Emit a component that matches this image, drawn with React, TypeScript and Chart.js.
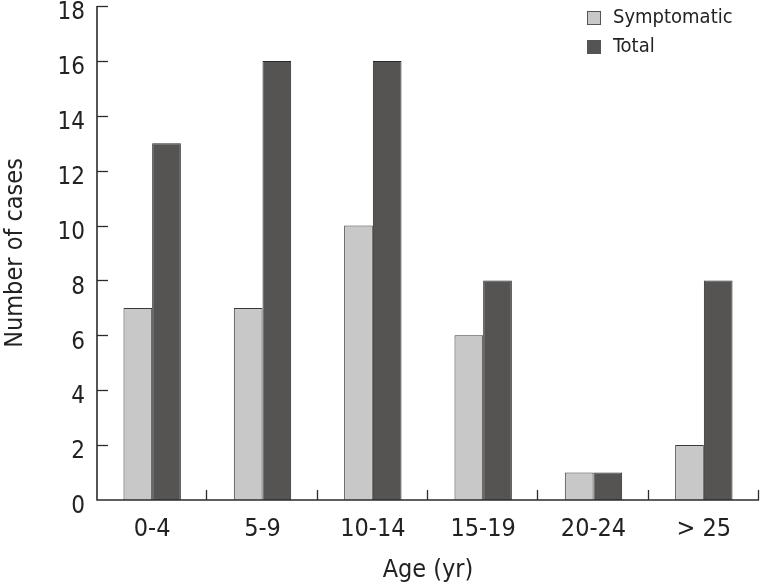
import React, { useEffect, useRef } from "react";
import { Chart, registerables } from "chart.js";

Chart.register(...registerables);

const categories = ["0-4", "5-9", "10-14", "15-19", "20-24", "> 25"];
const symptomatic = [7, 7, 10, 6, 1, 2];
const total = [13, 16, 16, 8, 1, 8];
const seriesNames = ["Symptomatic", "Total"];
const yTicks = [0, 2, 4, 6, 8, 10, 12, 14, 16, 18];

const FONT = "'Liberation Sans Narrow', 'DejaVu Sans Condensed', 'Liberation Sans', sans-serif";
const AXIS = "#2b2b2b";

const innerTicks = {
  id: "innerTicks",
  afterDraw(chart: any) {
    const { ctx, scales } = chart;
    const x = scales.x;
    const y = scales.y;
    ctx.save();
    ctx.strokeStyle = AXIS;
    ctx.lineWidth = 1.3;
    yTicks.forEach((v) => {
      if (v === 0) return;
      const py = Math.round(y.getPixelForValue(v)) + 0.5;
      ctx.beginPath();
      ctx.moveTo(x.left, py);
      ctx.lineTo(x.left + 11, py);
      ctx.stroke();
    });
    const n = categories.length;
    const w = (x.right - x.left) / n;
    for (let i = 1; i <= n; i++) {
      const px = Math.round(x.left + i * w) - 0.5;
      ctx.beginPath();
      ctx.moveTo(px, y.bottom);
      ctx.lineTo(px, y.bottom - 10);
      ctx.stroke();
    }
    ctx.lineWidth = 1.6;
    ctx.beginPath();
    ctx.moveTo(x.left, y.top);
    ctx.lineTo(x.left, y.bottom);
    ctx.lineTo(x.right, y.bottom);
    ctx.stroke();
    ctx.restore();
  },
};

const boxLegend = {
  id: "boxLegend",
  afterDraw(chart: any) {
    const { ctx } = chart;
    ctx.save();
    ctx.font = `20px ${FONT}`;
    ctx.textBaseline = "middle";
    chart.data.datasets.forEach((ds: any, i: number) => {
      const cy = 18 + i * 29;
      ctx.fillStyle = ds.backgroundColor;
      ctx.fillRect(587.5, cy - 6.5, 13, 13);
      ctx.strokeStyle = "#555";
      ctx.lineWidth = 1;
      ctx.strokeRect(587.5, cy - 6.5, 13, 13);
      ctx.fillStyle = "#222";
      ctx.fillText(ds.label, 613, cy);
    });
    ctx.restore();
  },
};

export default function App() {
  const ref = useRef<HTMLCanvasElement>(null);
  useEffect(() => {
    document.body.style.margin = "0";
    const chart = new Chart(ref.current!, {
      type: "bar",
      data: {
        labels: categories,
        datasets: [
          {
            label: seriesNames[0],
            data: symptomatic,
            backgroundColor: "#c8c8c8",
            borderColor: "#3a3a3a",
            borderWidth: 1,
            categoryPercentage: 0.52,
            barPercentage: 1,
          },
          {
            label: seriesNames[1],
            data: total,
            backgroundColor: "#565453",
            borderColor: "#2a2a2a",
            borderWidth: 1,
            categoryPercentage: 0.52,
            barPercentage: 1,
          },
        ],
      },
      options: {
        responsive: false,
        animation: false,
        layout: { padding: { top: 6, right: 2, left: 0, bottom: 0 } },
        plugins: { legend: { display: false }, tooltip: { enabled: false } },
        scales: {
          x: {
            grid: { display: false, drawTicks: false },
            border: { display: false },
            ticks: { color: "#222", font: { family: FONT, size: 25 }, padding: 14 },
            title: {
              display: true,
              text: "Age (yr)",
              color: "#222",
              font: { family: FONT, size: 25 },
              padding: { top: 0, bottom: 3 },
            },
            afterFit(scale: any) {
              scale.height = 88;
              scale.paddingLeft = 0;
              scale.paddingRight = 0;
            },
          },
          y: {
            min: 0,
            max: 18,
            grid: { display: false, drawTicks: false },
            border: { display: false },
            afterBuildTicks(scale: any) {
              scale.ticks = yTicks.map((v) => ({ value: v }));
            },
            ticks: { color: "#222", font: { family: FONT, size: 24 }, padding: 12, labelOffset: 7 },
            title: {
              display: true,
              text: "Number of cases",
              color: "#222",
              font: { family: FONT, size: 25 },
              padding: 0,
            },
            afterFit(scale: any) {
              scale.width = 97;
              scale.paddingTop = 0;
              scale.paddingBottom = 0;
            },
          },
        },
      },
      plugins: [innerTicks, boxLegend],
    });
    return () => chart.destroy();
  }, []);
  return (
    <div style={{ width: 761, height: 588 }}>
      <canvas ref={ref} width={761} height={588} />
    </div>
  );
}
